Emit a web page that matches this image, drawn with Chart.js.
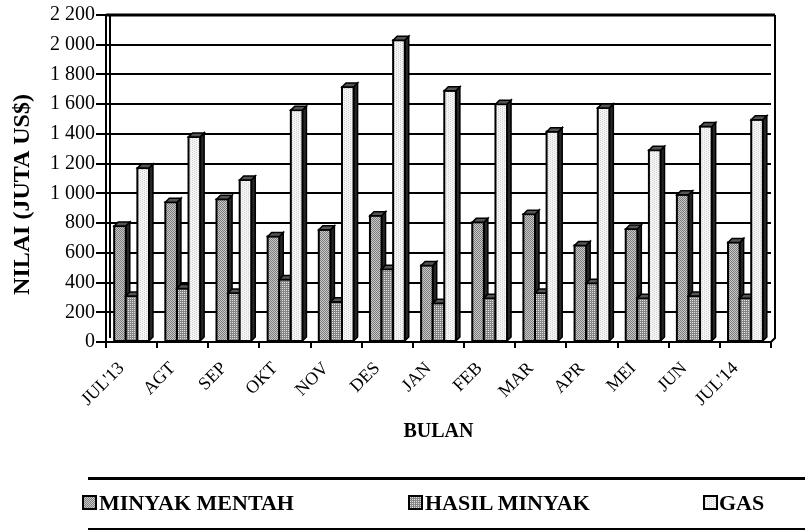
<!DOCTYPE html>
<html>
<head>
<meta charset="utf-8">
<script src="https://cdn.jsdelivr.net/npm/chart.js@4.4.1/dist/chart.umd.min.js"></script>
<style>
  html, body { margin: 0; padding: 0; background: #fff; }
  #wrap { position: relative; width: 805px; height: 531px; overflow: hidden; }
  #grafik { position: absolute; left: 0; top: 0; }
  .garis { position: absolute; left: 88px; width: 717px; background: #000; }
  .kotak { position: absolute; top: 495px; width: 15px; height: 15px; box-sizing: border-box; border: 2px solid #000; }
  .teks { position: absolute; top: 492px; font: bold 22px "Liberation Serif", serif; line-height: 22px; white-space: nowrap; color: #000; }
</style>
</head>
<body>
<div id="wrap">
  <canvas id="grafik" width="805" height="531"></canvas>
  <div class="garis" style="top:477px;height:3px"></div>
  <div class="garis" style="top:528px;height:2px"></div>
  <div class="kotak" id="kotak0" style="left:82px"></div>
  <div class="teks" style="left:99px">MINYAK MENTAH</div>
  <div class="kotak" id="kotak1" style="left:408px"></div>
  <div class="teks" style="left:425px">HASIL MINYAK</div>
  <div class="kotak" id="kotak2" style="left:703px"></div>
  <div class="teks" style="left:719px">GAS</div>
</div>
<script>
// Data (juta US$)
const bulan = ["JUL'13", "AGT", "SEP", "OKT", "NOV", "DES", "JAN", "FEB", "MAR", "APR", "MEI", "JUN", "JUL'14"];
const minyakMentah = [780, 940, 960, 710, 755, 850, 515, 805, 860, 650, 760, 990, 670];
const hasilMinyak = [310, 360, 330, 420, 270, 490, 260, 295, 330, 395, 295, 310, 295];
const gas = [1170, 1380, 1090, 1560, 1715, 2030, 1690, 1600, 1415, 1575, 1290, 1450, 1495];
const namaSeri = ["MINYAK MENTAH", "HASIL MINYAK", "GAS"];
const judulY = "NILAI (JUTA US$)";

// Pola arsir kecil untuk batang
function buatPola(dasar, titik, posisi) {
  const c = document.createElement("canvas");
  c.width = 4; c.height = 4;
  const g = c.getContext("2d");
  g.fillStyle = dasar;
  g.fillRect(0, 0, 4, 4);
  g.fillStyle = titik;
  posisi.forEach(([x, y]) => g.fillRect(x, y, 1, 1));
  return c;
}
const kanvasPola = [
  buatPola("#c9c9c9", "#7c7c7c", [[0, 0], [2, 0], [1, 1], [3, 1], [0, 2], [2, 2], [1, 3], [3, 3]]),
  buatPola("#858585", "#e2e2e2", [[0, 0], [2, 0], [0, 2], [2, 2]]),
  buatPola("#f5f5f5", "#d2d2d2", [[0, 0], [2, 1], [0, 2], [2, 3]])
];
const ctx = document.getElementById("grafik").getContext("2d");
const pola = kanvasPola.map(c => ctx.createPattern(c, "repeat"));
kanvasPola.forEach((c, i) => {
  document.getElementById("kotak" + i).style.background = "url(" + c.toDataURL() + ")";
});

const DALAM = 4; // kedalaman efek 3D

// Bingkai dinding belakang
const bingkai = {
  id: "bingkai",
  beforeDatasetsDraw(chart) {
    const { ctx, chartArea: a } = chart;
    ctx.save();
    ctx.strokeStyle = "#000";
    ctx.lineWidth = 2;
    ctx.beginPath();
    ctx.moveTo(a.left + DALAM, a.bottom - DALAM);
    ctx.lineTo(a.left + DALAM, a.top);
    ctx.moveTo(a.right + DALAM, a.top);
    ctx.lineTo(a.right + DALAM, a.bottom - DALAM);
    ctx.lineTo(a.right, a.bottom);
    ctx.stroke();
    ctx.lineWidth = 3;
    ctx.beginPath();
    ctx.moveTo(a.left, a.top);
    ctx.lineTo(a.right + DALAM, a.top);
    ctx.stroke();
    ctx.restore();
  },
  // judul sumbu Y, sedikit di bawah tengah seperti aslinya
  afterDraw(chart) {
    const { ctx, chartArea: a } = chart;
    ctx.save();
    ctx.translate(23, (a.top + a.bottom) / 2 + 16);
    ctx.rotate(-Math.PI / 2);
    ctx.font = "bold 24px 'Liberation Serif'";
    ctx.fillStyle = "#000";
    ctx.textAlign = "center";
    ctx.textBaseline = "middle";
    ctx.fillText(judulY, 0, 0);
    ctx.restore();
  }
};

// Gambar ulang batang dengan sisi dan tutup 3D, urut per kategori
const batang3D = {
  id: "batang3D",
  afterDatasetsDraw(chart) {
    const { ctx } = chart;
    const metas = chart.data.datasets.map((_, i) => chart.getDatasetMeta(i));
    ctx.save();
    ctx.lineJoin = "miter";
    for (let j = 0; j < bulan.length; j++) {
      metas.forEach((meta, i) => {
        const el = meta.data[j];
        const { x, y, base, width } = el.getProps(["x", "y", "base", "width"], true);
        const x0 = x - width / 2, x1 = x + width / 2;
        // sisi kanan
        ctx.fillStyle = "#262626";
        ctx.strokeStyle = "#000";
        ctx.lineWidth = 1.5;
        ctx.beginPath();
        ctx.moveTo(x1, y);
        ctx.lineTo(x1 + DALAM, y - DALAM);
        ctx.lineTo(x1 + DALAM, base - DALAM);
        ctx.lineTo(x1, base);
        ctx.closePath();
        ctx.fill(); ctx.stroke();
        // muka depan
        ctx.fillStyle = pola[i];
        ctx.fillRect(x0, y, width, base - y);
        ctx.lineWidth = 2;
        ctx.strokeRect(x0, y, width, base - y);
        // tutup atas
        ctx.fillStyle = "#555";
        ctx.lineWidth = 1.5;
        ctx.beginPath();
        ctx.moveTo(x0, y);
        ctx.lineTo(x0 + DALAM, y - DALAM);
        ctx.lineTo(x1 + DALAM, y - DALAM);
        ctx.lineTo(x1, y);
        ctx.closePath();
        ctx.fill(); ctx.stroke();
      });
    }
    ctx.restore();
  }
};

const seri = [minyakMentah, hasilMinyak, gas];

new Chart(ctx, {
  type: "bar",
  data: {
    labels: bulan,
    datasets: seri.map((d, i) => ({
      label: namaSeri[i],
      data: d,
      backgroundColor: pola[i],
      borderColor: "#000",
      borderWidth: 2,
      categoryPercentage: 0.68,
      barPercentage: 1.0
    }))
  },
  options: {
    responsive: false,
    animation: false,
    layout: { padding: { top: 15, right: 34, bottom: 86, left: 0 } },
    plugins: { legend: { display: false }, tooltip: { enabled: false } },
    scales: {
      x: {
        afterFit(s) { s.height = 103; },
        grid: { display: true, drawOnChartArea: false, drawTicks: true, tickLength: 6, color: "#000", lineWidth: 2, offset: true },
        border: { display: true, color: "#000", width: 2 },
        ticks: {
          color: "#000",
          font: { family: "Liberation Serif", size: 18 },
          minRotation: 45, maxRotation: 45,
          autoSkip: false,
          labelOffset: -10,
          padding: 10
        },
        title: {
          display: true, text: "BULAN", color: "#000",
          font: { family: "Liberation Serif", size: 20, weight: "bold" },
          padding: { top: 0, bottom: 1 }
        }
      },
      y: {
        min: 0, max: 2200,
        afterFit(s) { s.width = 106; },
        grid: { color: "#000", lineWidth: 2, tickLength: 10 },
        border: { display: true, color: "#000", width: 2 },
        ticks: {
          stepSize: 200,
          color: "#000",
          padding: 1,
          font: { family: "Liberation Serif", size: 20 },
          callback: v => String(v).replace(/\B(?=(\d{3})+(?!\d))/g, " ")
        }
      }
    }
  },
  plugins: [bingkai, batang3D]
});
</script>
</body>
</html>
